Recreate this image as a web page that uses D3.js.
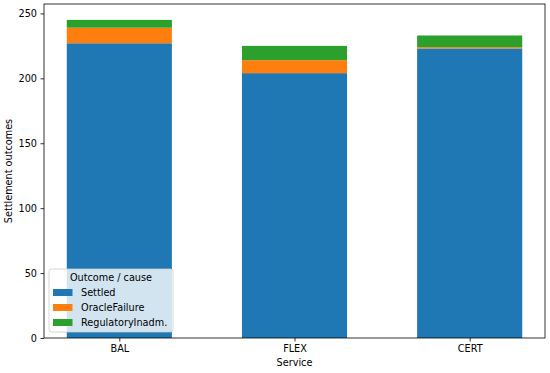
<!doctype html>
<html>
<head>
<script src="https://d3js.org/d3.v7.min.js"></script>
<style>
  body { margin: 0; background: #fff; }
  text { font-family: "DejaVu Sans", sans-serif; }
</style>
</head>
<body>
<svg id="chart" width="550" height="373"></svg>
<script>
// data
var services = ["BAL", "FLEX", "CERT"];
var settled = [227, 204, 223];
var oracleFailure = [12, 10, 1];
var regulatoryInadm = [6, 11, 9];
var seriesNames = ["Settled", "OracleFailure", "RegulatoryInadm."];
var colors = ["#1f77b4", "#ff7f0e", "#2ca02c"];
var yTicks = [0, 50, 100, 150, 200, 250];

var svg = d3.select("#chart");
var plotL = 44, plotR = 545, plotT = 4, plotB = 338;

var rows = services.map(function(s, i) {
    return { service: s, Settled: settled[i], OracleFailure: oracleFailure[i], "RegulatoryInadm.": regulatoryInadm[i] };
});
var stacked = d3.stack().keys(seriesNames)(rows);
var maxTotal = d3.max(rows, function(d, i) { return settled[i] + oracleFailure[i] + regulatoryInadm[i]; });

// matplotlib-like linear x: bars of width 0.6 at 0,1,2, with 5% margins
var xScale = d3.scaleLinear().domain([-0.43, 2.43]).range([plotL, plotR]);
var yScale = d3.scaleLinear().domain([0, maxTotal * 1.05]).range([plotB, plotT]);
var barW = 0.6;

var g = svg.append("g");

stacked.forEach(function(layer, k) {
    g.selectAll(".bar" + k)
     .data(layer)
     .enter().append("rect")
     .attr("x", function(d, i) { return xScale(i - barW / 2); })
     .attr("width", xScale(barW) - xScale(0))
     .attr("y", function(d) { return yScale(d[1]); })
     .attr("height", function(d) { return yScale(d[0]) - yScale(d[1]); })
     .attr("fill", colors[k]);
});

// axes
var yAxis = svg.append("g")
    .attr("transform", "translate(" + plotL + ",0)")
    .call(d3.axisLeft(yScale).tickValues(yTicks).tickSize(3.5).tickPadding(3.5));
var xAxis = svg.append("g")
    .attr("transform", "translate(0," + plotB + ")")
    .call(d3.axisBottom(xScale).tickValues([0, 1, 2]).tickFormat(function(d) { return services[d]; }).tickSize(3.5).tickPadding(3.5));
[xAxis, yAxis].forEach(function(a) {
    a.select(".domain").remove();
    a.selectAll("line").attr("stroke", "#000").attr("stroke-width", 0.8);
    a.selectAll("text").attr("font-size", "9.7px").attr("fill", "#000").attr("font-family", "DejaVu Sans");
});

// frame
svg.append("rect")
   .attr("x", plotL).attr("y", plotT)
   .attr("width", plotR - plotL).attr("height", plotB - plotT)
   .attr("fill", "none").attr("stroke", "#000").attr("stroke-width", 0.8);

// axis labels
svg.append("text")
   .attr("x", (plotL + plotR) / 2).attr("y", 366)
   .attr("text-anchor", "middle").attr("font-size", "9.7px")
   .text("Service");
svg.append("text")
   .attr("transform", "translate(12," + ((plotT + plotB) / 2) + ") rotate(-90)")
   .attr("text-anchor", "middle").attr("font-size", "9.7px")
   .text("Settlement outcomes");

// legend
var lg = svg.append("g").attr("transform", "translate(49,269)");
lg.append("rect")
  .attr("width", 124).attr("height", 63).attr("rx", 2.5)
  .attr("fill", "#fff").attr("fill-opacity", 0.8)
  .attr("stroke", "#ccc").attr("stroke-width", 0.8);
lg.append("text")
  .attr("x", 62).attr("y", 11.5).attr("text-anchor", "middle")
  .attr("font-size", "9.7px").text("Outcome / cause");
seriesNames.forEach(function(name, k) {
    var yy = 23.5 + k * 15;
    lg.append("rect").attr("x", 4).attr("y", yy - 3.5).attr("width", 19.5).attr("height", 7)
      .attr("fill", colors[k]);
    lg.append("text").attr("x", 32).attr("y", yy + 3.5)
      .attr("font-size", "9.7px").text(name);
});
</script>
</body>
</html>
